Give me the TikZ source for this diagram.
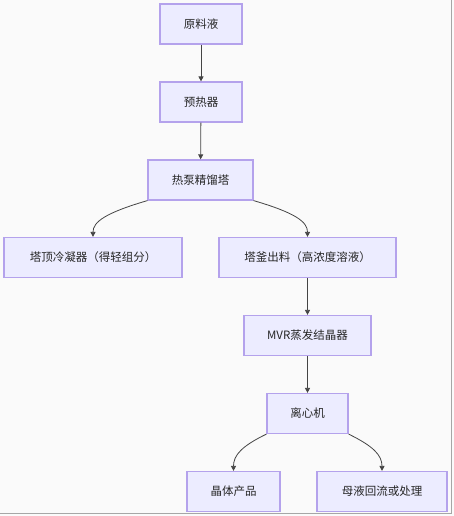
\documentclass[tikz,border=0pt]{standalone}
\usepackage{fontspec}
\setmainfont{Noto Sans CJK SC}
\usetikzlibrary{arrows.meta}
\definecolor{boxfill}{HTML}{ECECFF}
\definecolor{boxline}{HTML}{B4A2EC}
\definecolor{edge}{HTML}{444444}
\definecolor{bg}{HTML}{FAFAFA}
\begin{document}
\begin{tikzpicture}[x=1pt,y=-1pt,
  box/.style={draw=boxline, line width=1.2pt, fill=boxfill, minimum height=40pt, inner sep=0pt, font=\fontsize{11.5pt}{13pt}\selectfont, text=black!85},
  flow/.style={draw=edge, line width=0.8pt, -{Triangle[length=5pt,width=5pt]}}]
\fill[bg] (0,0) rectangle (454,516);
\useasboundingbox (0,0) rectangle (454,516);
\draw[gray!70, line width=1.2pt] (451.5,0) -- (451.5,513.5) -- (0,513.5);
\node[box, minimum width=82pt] (a) at (201,24) {原料液};
\node[box, minimum width=82pt] (b) at (201,102) {预热器};
\node[box, minimum width=105pt] (c) at (200.5,180) {热泵精馏塔};
\node[box, minimum width=178pt] (d) at (93,257.5) {塔顶冷凝器（得轻组分）};
\node[box, minimum width=177pt] (e) at (307.5,257.5) {塔釜出料（高浓度溶液）};
\node[box, minimum width=127pt] (f) at (307.5,335.5) {MVR蒸发结晶器};
\node[box, minimum width=81pt] (g) at (307.5,413.5) {离心机};
\node[box, minimum width=93pt] (h) at (233.5,491.5) {晶体产品};
\node[box, minimum width=130pt] (i) at (382,491.5) {母液回流或处理};
\draw[flow] (a) -- (b);
\draw[flow] (b) -- (c);
\draw[flow] (c.south west) .. controls (105,213) and (93,222) .. (d.north);
\draw[flow] (c.south east) .. controls (296,213) and (307.5,222) .. (e.north);
\draw[flow] (e) -- (f);
\draw[flow] (f) -- (g);
\draw[flow] (g.south west) .. controls (242,446) and (233.5,455) .. (h.north);
\draw[flow] (g.south east) .. controls (373,446) and (382,455) .. (i.north);
\end{tikzpicture}
\end{document}
